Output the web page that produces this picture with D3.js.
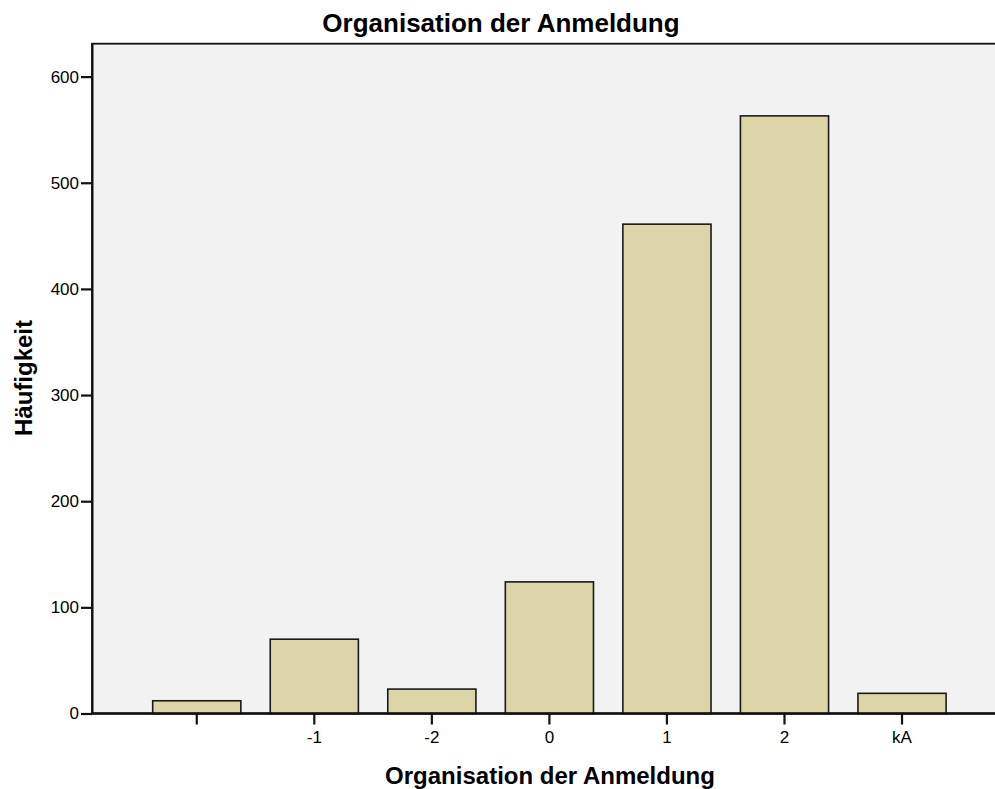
<html>

<head>
    <meta charset="utf-8">
    <title>Organisation der Anmeldung</title>
    <script src='https://d3js.org/d3.v7.min.js'></script>
    <style>
        body { margin: 0; background: white; }
        text { font-family: "Liberation Sans", Arial, sans-serif; fill: black; }
        rect.bar { fill: #dbd5a8; stroke: #1a1a1a; stroke-width: 1.6; }
    </style>
</head>

<body>
    <svg id="chart"></svg>
    <script>
        // Häufigkeiten je Kategorie
        var categories = ["", "-1", "-2", "0", "1", "2", "kA"];
        var counts = [12, 70, 23, 124, 461, 563, 19];
        var yTicks = [0, 100, 200, 300, 400, 500, 600];

        var width = 995, height = 789;
        var plotLeft = 92, plotTop = 43.7, plotRight = 1000, plotBottom = 713.5;

        var svg = d3.select("#chart")
            .attr("width", width)
            .attr("height", height);

        var x = d3.scaleBand().domain(categories).range([138, 960.8]).paddingInner(0.25).paddingOuter(0.125);
        var y = d3.scaleLinear().domain([0, 631]).range([plotBottom, plotTop]);

        // plot background and frame
        svg.append("rect")
            .attr("x", plotLeft).attr("y", plotTop)
            .attr("width", plotRight - plotLeft).attr("height", plotBottom - plotTop)
            .attr("fill", "#f2f2f2")
            .attr("stroke", "#111").attr("stroke-width", 1.8);

        svg.append("g")
            .selectAll("rect")
            .data(counts)
            .enter()
            .append("rect")
            .attr("class", "bar")
            .attr("x", function (d, i) { return x(categories[i]); })
            .attr("width", x.bandwidth())
            .attr("y", function (d) { return y(d); })
            .attr("height", function (d) { return plotBottom - y(d); });

        // y axis
        var yAxis = svg.append("g")
            .attr("transform", "translate(" + plotLeft + ",0)")
            .call(d3.axisLeft(y).tickValues(yTicks).tickSize(11).tickSizeOuter(0).tickPadding(2));
        yAxis.select(".domain").attr("stroke", "#111").attr("stroke-width", 2);
        yAxis.selectAll(".tick line").attr("stroke", "#111").attr("stroke-width", 2.2);
        yAxis.selectAll("text").style("font-size", "17px").style("font-family", "Liberation Sans, Arial, sans-serif").attr("fill", "black");

        // x axis
        var xAxis = svg.append("g")
            .attr("transform", "translate(0," + plotBottom + ")")
            .call(d3.axisBottom(x).tickSize(11).tickSizeOuter(0).tickPadding(6));
        xAxis.select(".domain").attr("d", "M" + plotLeft + ",0H" + plotRight).attr("stroke", "#111").attr("stroke-width", 2.4);
        xAxis.selectAll(".tick line").attr("stroke", "#111").attr("stroke-width", 2.2);
        xAxis.selectAll("text").style("font-size", "17px").style("font-family", "Liberation Sans, Arial, sans-serif").attr("fill", "black");

        // titles
        svg.append("text")
            .attr("x", 501).attr("y", 32)
            .attr("text-anchor", "middle")
            .style("font-size", "26px").style("font-weight", "bold")
            .text("Organisation der Anmeldung");

        svg.append("text")
            .attr("x", 550).attr("y", 784)
            .attr("text-anchor", "middle")
            .style("font-size", "24px").style("font-weight", "bold")
            .text("Organisation der Anmeldung");

        svg.append("text")
            .attr("transform", "translate(32,378) rotate(-90)")
            .attr("text-anchor", "middle")
            .style("font-size", "24px").style("font-weight", "bold")
            .text("Häufigkeit");
    </script>
</body>

</html>
